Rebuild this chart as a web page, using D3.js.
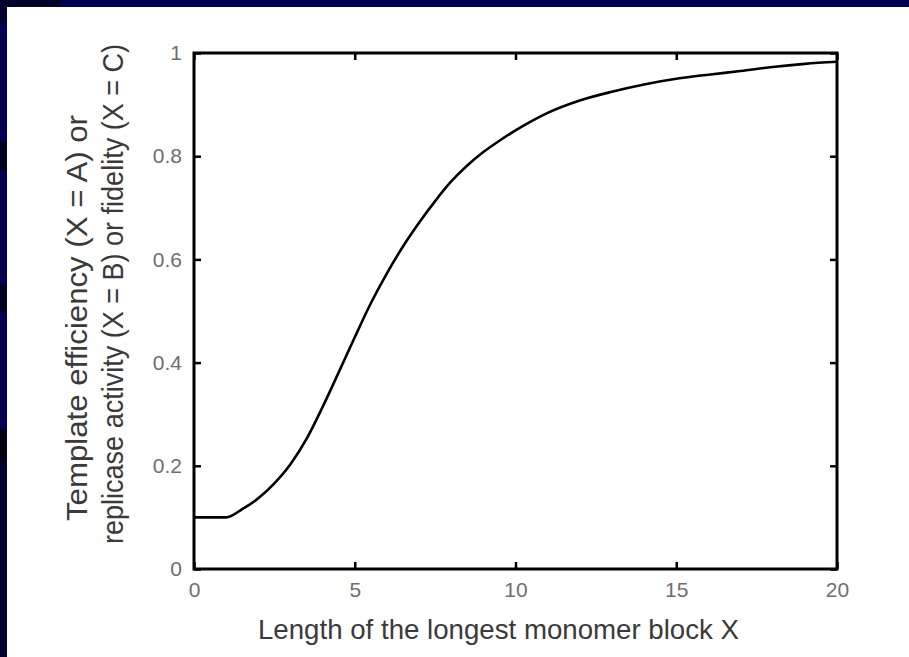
<!DOCTYPE html>
<html>
<head>
<meta charset="utf-8">
<script src="https://cdn.jsdelivr.net/npm/d3@7"></script>
<style>
  html, body { margin: 0; padding: 0; background: #00004c; }
  svg { display: block; }
</style>
</head>
<body>
<div id="chart"></div>
<script>
// curve
var blockLength = [0, 1, 1.5, 2, 2.5, 3, 3.5, 4, 4.5, 5, 5.5, 6, 6.5, 7, 7.5, 8, 8.5, 9, 9.5, 10,
                   10.5, 11, 12, 13, 14, 15, 16, 17, 18, 19, 20];
var efficiency = [0.100, 0.100, 0.116, 0.137, 0.166, 0.203, 0.252, 0.314, 0.381, 0.449, 0.515,
                  0.573, 0.625, 0.671, 0.713, 0.751, 0.782, 0.808, 0.830, 0.850,
                  0.868, 0.884, 0.908, 0.925, 0.939, 0.950, 0.958, 0.965, 0.973, 0.979, 0.983];
var xTicks = [0, 5, 10, 15, 20];
var yTicks = [0, 0.2, 0.4, 0.6, 0.8, 1];
var xLabel = "Length of the longest monomer block X";
var yLabel = ["Template efficiency (X = A) or",
              "replicase activity (X = B) or fidelity (X = C)"];

var W = 909, H = 657;
var plot = { "left": 194, "top": 53, "right": 837, "bottom": 569 };
var FONT = "'Liberation Sans', Arial, sans-serif";

var svg = d3.select("#chart").append("svg")
        .attr("width", W)
        .attr("height", H);

// slide background: navy frame with darker bands on the left edge
svg.append("rect").attr("x", 0).attr("y", 0).attr("width", W).attr("height", H).attr("fill", "#00004e");
svg.append("rect").attr("x", 0).attr("y", 0).attr("width", 60).attr("height", 7).attr("fill", "#00002a");
[[0, 23, "#00002a"], [142, 28, "#00001e"], [285, 27, "#00001e"], [429, 32, "#000010"], [461, 196, "#00002a"]]
        .forEach(function(b) {
                svg.append("rect").attr("x", 0).attr("y", b[0]).attr("width", 7).attr("height", b[1]).attr("fill", b[2]);
        });
svg.append("rect").attr("x", 7).attr("y", 7).attr("width", W - 7).attr("height", H - 7).attr("fill", "#ffffff");

var x = d3.scaleLinear().domain([0, 20]).range([plot.left, plot.right]);
var y = d3.scaleLinear().domain([0, 1]).range([plot.bottom, plot.top]);

function styleAxis(g, showText) {
        g.select(".domain").remove();
        g.selectAll(".tick line").attr("stroke", "#000").attr("stroke-width", 2.5);
        g.selectAll(".tick text")
                .attr("fill", "#6e6e6e")
                .style("font-family", FONT)
                .style("font-size", "21px");
        if (!showText) g.selectAll(".tick text").remove();
}

svg.append("g")
        .attr("transform", "translate(0," + plot.bottom + ")")
        .call(d3.axisBottom(x).tickValues(xTicks).tickSize(-7).tickSizeOuter(0).tickPadding(13))
        .call(styleAxis, true);
svg.append("g")
        .attr("transform", "translate(0," + plot.top + ")")
        .call(d3.axisTop(x).tickValues(xTicks).tickSize(-7).tickSizeOuter(0))
        .call(styleAxis, false);
svg.append("g")
        .attr("transform", "translate(" + plot.left + ",0)")
        .call(d3.axisLeft(y).tickValues(yTicks).tickSize(-7).tickSizeOuter(0).tickPadding(12)
                .tickFormat(d3.format("~g")))
        .call(styleAxis, true);
svg.append("g")
        .attr("transform", "translate(" + plot.right + ",0)")
        .call(d3.axisRight(y).tickValues(yTicks).tickSize(-7).tickSizeOuter(0))
        .call(styleAxis, false);

// frame
svg.append("rect")
        .attr("x", plot.left)
        .attr("y", plot.top)
        .attr("width", plot.right - plot.left)
        .attr("height", plot.bottom - plot.top)
        .attr("fill", "none")
        .attr("stroke", "#000")
        .attr("stroke-width", 3);

// curve
var points = blockLength.map(function(d, i) { return [d, efficiency[i]]; });
svg.append("path")
        .datum(points)
        .attr("fill", "none")
        .attr("stroke", "#000")
        .attr("stroke-width", 2.6)
        .attr("d", d3.line()
                .x(function(d) { return x(d[0]); })
                .y(function(d) { return y(d[1]); })
                .curve(d3.curveMonotoneX));

// axis titles
svg.append("text")
        .attr("x", 258)
        .attr("y", 639)
        .attr("textLength", 481)
        .attr("lengthAdjust", "spacingAndGlyphs")
        .attr("fill", "#3a3a3a")
        .style("font-family", FONT)
        .style("font-size", "28px")
        .text(xLabel);

svg.append("text")
        .attr("transform", "translate(87,521) rotate(-90)")
        .attr("textLength", 406)
        .attr("lengthAdjust", "spacingAndGlyphs")
        .attr("fill", "#3a3a3a")
        .style("font-family", FONT)
        .style("font-size", "30px")
        .text(yLabel[0]);

svg.append("text")
        .attr("transform", "translate(123,544) rotate(-90)")
        .attr("textLength", 500)
        .attr("lengthAdjust", "spacingAndGlyphs")
        .attr("fill", "#3a3a3a")
        .style("font-family", FONT)
        .style("font-size", "29px")
        .text(yLabel[1]);
</script>
</body>
</html>
